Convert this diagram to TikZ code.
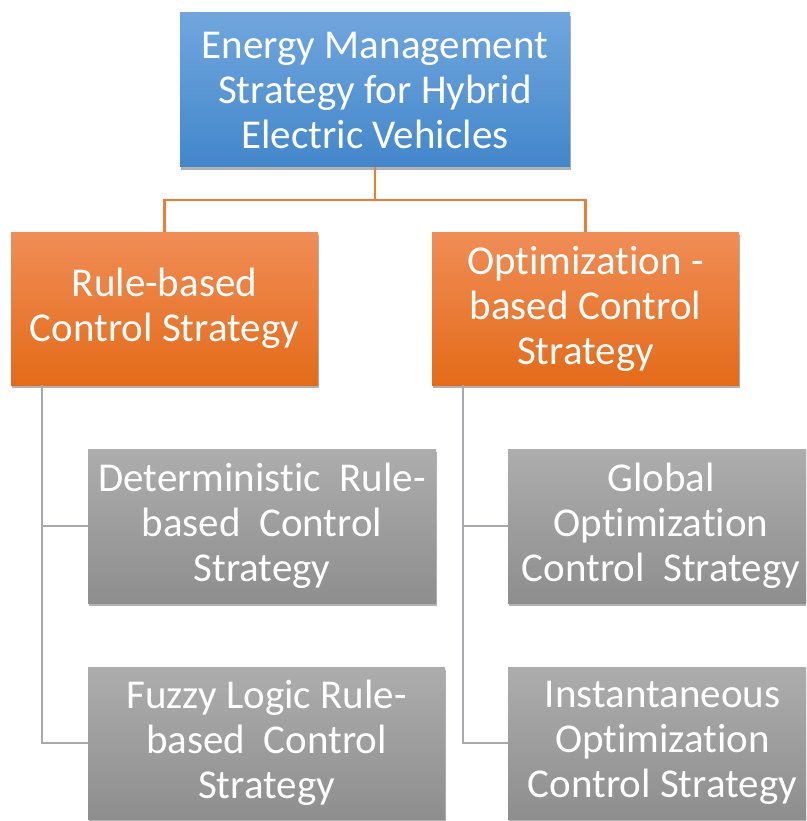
\documentclass[tikz,border=0pt]{standalone}
\usepackage{fontspec}
\setmainfont{Carlito}[RawFeature={-liga;-clig;-calt;-dlig;-rlig}]
\usepackage{tikz}
\usetikzlibrary{shadows}
\usepackage{xcolor}
\definecolor{bluetop}{HTML}{70A6DD}
\definecolor{bluebot}{HTML}{4287CB}
\definecolor{orgtop}{HTML}{F08D56}
\definecolor{orgbot}{HTML}{E46B19}
\definecolor{graytop}{HTML}{ADADAD}
\definecolor{graybot}{HTML}{8E8E8E}
\definecolor{orgline}{HTML}{ED7D31}
\definecolor{grline}{HTML}{A9A9AD}
\tikzstyle{box}=[inner sep=0pt, align=center, text=white, font=\fontsize{41}{45}\selectfont,
  drop shadow={shadow xshift=1pt, shadow yshift=-3pt, fill=black, opacity=0.3}]
\tikzstyle{topbox}=[box, top color=bluetop, bottom color=bluebot]
\tikzstyle{midbox}=[box, top color=orgtop, bottom color=orgbot, minimum width=307pt, minimum height=153pt]
\tikzstyle{leafbox}=[box, top color=graytop, bottom color=graybot]
\tikzstyle{orangeline}=[draw=orgline, line width=2.5pt]
\tikzstyle{grayline}=[draw=grline, line width=2.5pt]

\begin{document}
\begin{tikzpicture}[x=1pt,y=-1pt]
\clip (0,0) rectangle (806,821);
\fill[white] (0,0) rectangle (806,821);

\node[topbox, minimum width=390pt, minimum height=154pt] (ems) at (375,90)
  {Energy Management\\Strategy for Hybrid\\Electric Vehicles};

\node[midbox] (rule) at (164.5,308.5) {Rule-based\\Control Strategy};
\node[midbox] (opt) at (585.5,308.5) {Optimization -\\based Control\\Strategy};

\node[leafbox, minimum width=348pt, minimum height=154pt] (det) at (262,526)
  {Deterministic\ \ Rule-\\based\ \ Control\\Strategy};
\node[leafbox, minimum width=357pt, minimum height=152pt] (fuz) at (266.5,743)
  {Fuzzy Logic Rule-\\based\ \ Control\\Strategy};
\node[leafbox, minimum width=306pt, minimum height=154pt] (glob) at (661,526)
  {Global\\Optimization\\Control\ \ Strategy};
\node[leafbox, minimum width=309pt, minimum height=152pt] (inst) at (662.5,743)
  {Instantaneous\\Optimization\\Control Strategy};

% connectors
\coordinate (split) at (375,200);
\coordinate (lbus) at (42,385);
\coordinate (rbus) at (463,385);
\draw[orangeline] (ems.south) -- (split);
\draw[orangeline] (rule.north) |- (split) -| (opt.north);
\foreach \n in {det,fuz} {
	\draw[grayline] (lbus) |- (\n.west);
}
\foreach \n in {glob,inst} {
	\draw[grayline] (rbus) |- (\n.west);
}
\end{tikzpicture}
\end{document}
